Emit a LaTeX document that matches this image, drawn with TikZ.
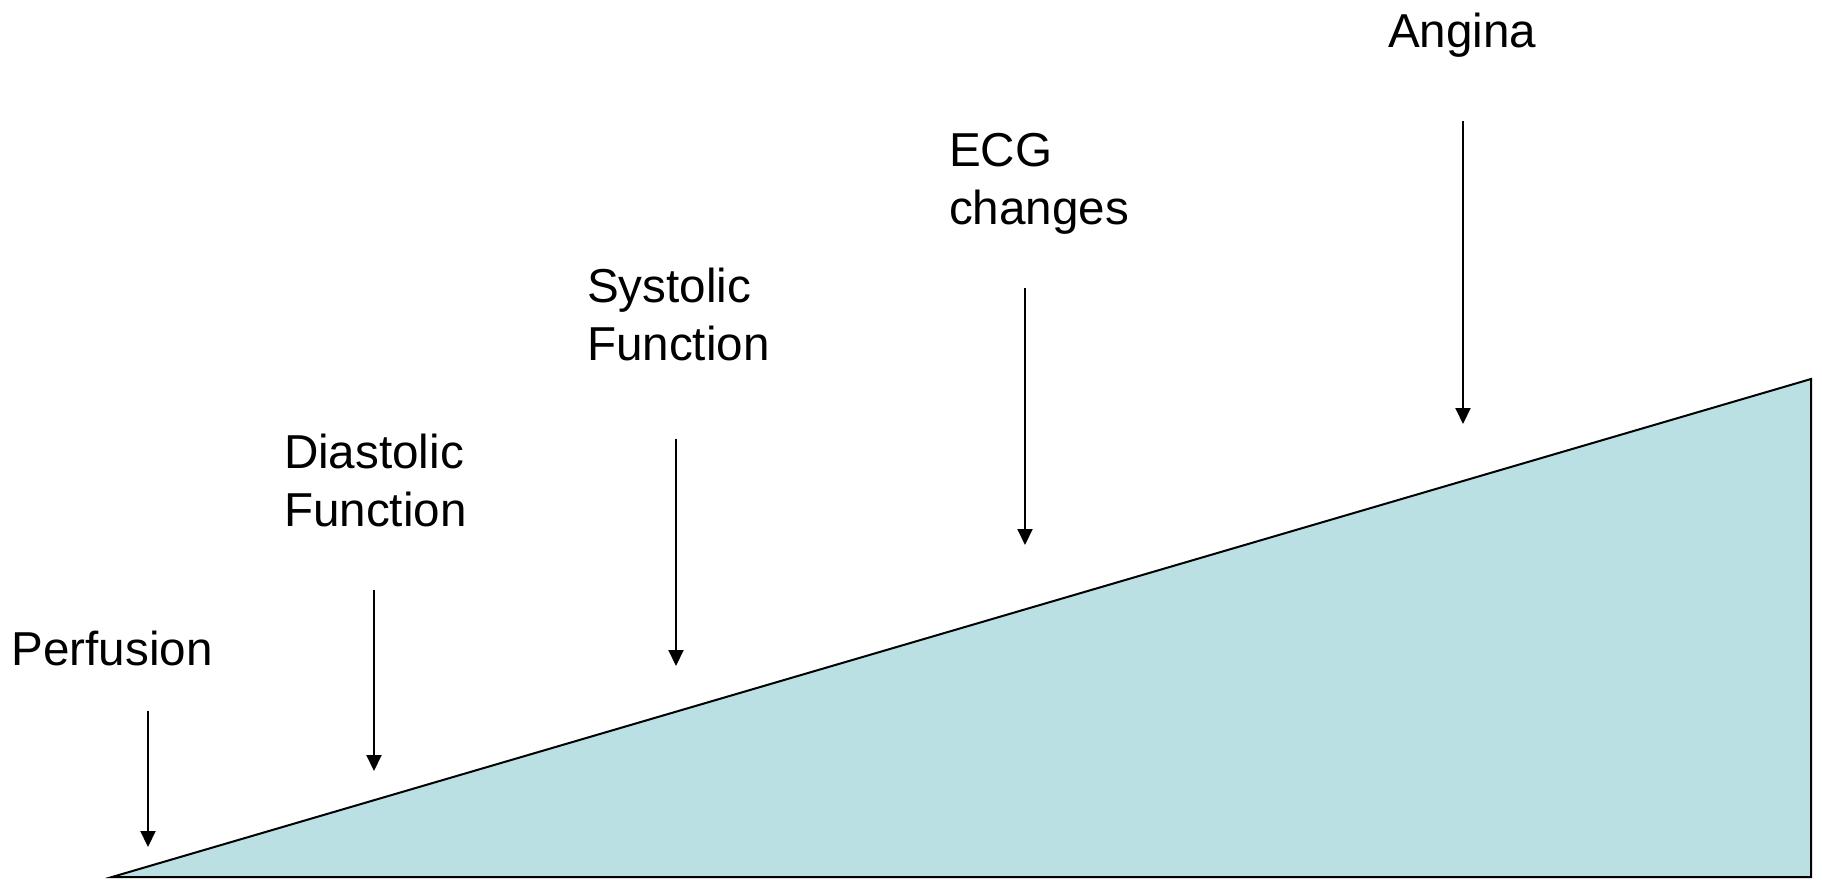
\documentclass[tikz,border=0pt]{standalone}
\usepackage{fontspec}
\setmainfont{Liberation Sans}
\usetikzlibrary{arrows.meta}
\definecolor{wedgefill}{RGB}{186,224,227}
\begin{document}
\begin{tikzpicture}[x=0.5pt,y=-0.5pt,
  lbl/.style={font=\fontsize{23.8pt}{28.8pt}\selectfont, inner sep=0pt, outer sep=0pt, align=left, anchor=base west},
  marker/.style={line width=1pt, -{Triangle[length=8pt,width=7.5pt]}},
  wedge/.style={fill=wedgefill, draw=black, line width=1pt, line join=miter}]
\useasboundingbox (0,0) rectangle (1822,879);
% wedge
\coordinate (w1) at (112,877);
\coordinate (w2) at (1811,379);
\coordinate (w3) at (1811,877);
\draw[wedge] (w1) -- (w2) -- (w3) -- cycle;
% labels (base = baseline of the last line)
\node[lbl] (perf) at (11.5,665) {Perfusion};
\node[lbl] (dias) at (284,526) {Diastolic\\Function};
\node[lbl] (syst) at (587,360) {Systolic\\Function};
\node[lbl] (ecg) at (949,224) {ECG\\changes};
\node[lbl] (ang) at (1388,47) {Angina};
% arrows
\coordinate (a1s) at (148,711); \coordinate (a1e) at (148,847);
\coordinate (a2s) at (374,590); \coordinate (a2e) at (374,771);
\coordinate (a3s) at (676,439); \coordinate (a3e) at (676,666);
\coordinate (a4s) at (1025,288); \coordinate (a4e) at (1025,545);
\coordinate (a5s) at (1463,121); \coordinate (a5e) at (1463,424);
\draw[marker] (a1s) -- (a1e);
\draw[marker] (a2s) -- (a2e);
\draw[marker] (a3s) -- (a3e);
\draw[marker] (a4s) -- (a4e);
\draw[marker] (a5s) -- (a5e);
\end{tikzpicture}
\end{document}
